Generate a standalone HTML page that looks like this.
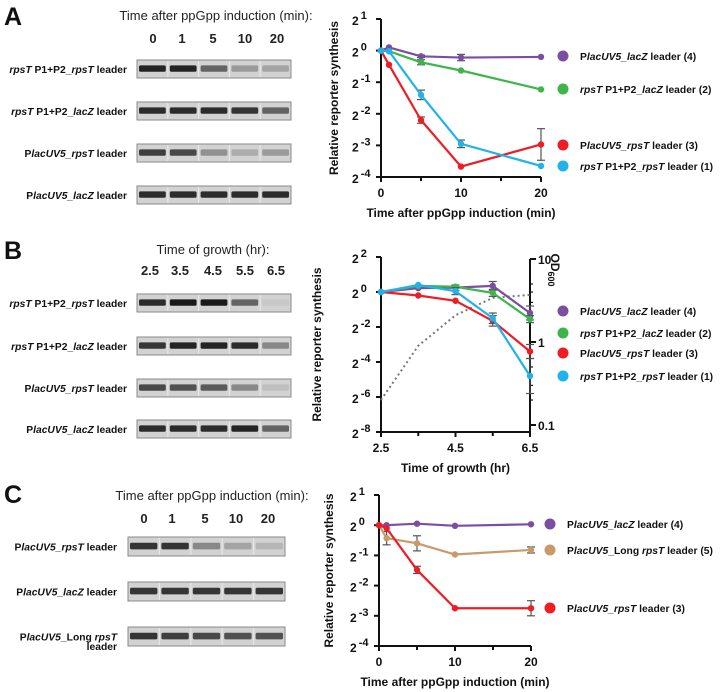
<!DOCTYPE html>
<html><head><meta charset="utf-8">
<style>
html,body{margin:0;padding:0;background:#fff;}
svg{display:block;font-family:"Liberation Sans",Arial,sans-serif;}
.t{font-weight:bold;font-size:12px;fill:#111;}
.lab{font-weight:bold;font-size:10.3px;fill:#111;}
.hdr{font-size:13px;fill:#222;}
.num{font-weight:bold;font-size:13px;fill:#222;}
.big{font-weight:bold;font-size:25px;fill:#111;}
</style></head>
<body>
<svg id="fig" width="720" height="692" viewBox="0 0 720 692">
<text class="big" x="4" y="25">A</text>
<text class="big" x="4" y="259">B</text>
<text class="big" x="4" y="503">C</text>
<text class="hdr" x="216" y="20" text-anchor="middle">Time after ppGpp induction (min):</text>
<text class="hdr" x="213" y="254" text-anchor="middle">Time of growth (hr):</text>
<text class="hdr" x="212" y="500" text-anchor="middle">Time after ppGpp induction (min):</text>
<g id="gels"></g>
<g id="charts"></g>
</svg>
<script>
// ---- Gel data ----
const gelALanes = ["0","1","5","10","20"];
const gelALabels = [[["rpsT",1],[" P1+P2_",0],["rpsT",1],[" leader",0]],[["rpsT",1],[" P1+P2_",0],["lacZ",1],[" leader",0]],[["P",0],["lacUV5_rpsT",1],[" leader",0]],[["P",0],["lacUV5_lacZ",1],[" leader",0]]];
const gelAIntensity = [[0.95,0.95,0.6,0.3,0.25],[0.9,0.9,0.9,0.85,0.6],[0.8,0.75,0.35,0.2,0.3],[0.9,0.9,0.9,0.9,0.9]];
const gelBLanes = ["2.5","3.5","4.5","5.5","6.5"];
const gelBIntensity = [[0.9,1,1,0.6,0.05],[0.85,0.95,0.95,0.9,0.4],[0.75,0.7,0.65,0.4,0.1],[0.9,0.9,0.9,0.95,0.6]];
const gelCLanes = ["0","1","5","10","20"];
const gelCLabels = [[["P",0],["lacUV5_rpsT",1],[" leader",0]],[["P",0],["lacUV5_lacZ",1],[" leader",0]],[["P",0],["lacUV5",1],["_Long ",0],["rpsT",1]]];
const gelCIntensity = [[0.85,0.85,0.4,0.25,0.15],[0.85,0.85,0.85,0.85,0.85],[0.85,0.8,0.75,0.7,0.7]];

// ---- Chart A data ----
const aTimes = [0,1,5,10,20];
const aPurple = [0,0.1,-0.18,-0.22,-0.2];
const aPurpleErr = [0,0,0.04,0.1,0];
const aGreen = [0,-0.02,-0.37,-0.63,-1.23];
const aGreenErr = [0,0,0.08,0,0];
const aRed = [0,-0.45,-2.2,-3.67,-2.97];
const aRedErr = [0,0,0.1,0,0.5];
const aBlue = [0,-0.02,-1.4,-2.95,-3.65];
const aBlueErr = [0,0,0.15,0.12,0];
const aYTicks = [1,0,-1,-2,-3,-4];
const aXTicks = [0,10,20];

// ---- Chart B data ----
const bTimes = [2.5,3.5,4.5,5.5,6.5];
const bPurple = [0,0.22,0.25,0.35,-1.2];
const bPurpleErr = [0,0,0.15,0.25,0.4];
const bGreen = [0,0.35,0.3,-0.05,-1.55];
const bGreenErr = [0,0,0,0.2,0.2];
const bRed = [0,-0.2,-0.5,-1.65,-3.4];
const bRedErr = [0,0,0,0.3,0.4];
const bBlue = [0,0.4,0.05,-1.5,-4.8];
const bBlueErr = [0,0,0.2,0.3,1.0];
const bOD = [0.2,0.9,2.1,3.4,3.7];
const bYTicks = [2,0,-2,-4,-6,-8];
const bXTicks = [2.5,4.5,6.5];
const bODTicks = [10,1,0.1];

// ---- Chart C data ----
const cTimes = [0,1,5,10,20];
const cPurple = [0,0,0.05,-0.02,0.03];
const cPurpleErr = [0,0,0,0,0];
const cTan = [0,-0.43,-0.6,-0.97,-0.82];
const cTanErr = [0,0.22,0.25,0,0.1];
const cRed = [0,-0.1,-1.48,-2.75,-2.75];
const cRedErr = [0,0,0.12,0,0.25];
const cYTicks = [1,0,-1,-2,-3,-4];
const cXTicks = [0,10,20];

const NS = "http://www.w3.org/2000/svg";
function mk(tag, attrs, parent){
  const e = document.createElementNS(NS, tag);
  for (const k in attrs) e.setAttribute(k, attrs[k]);
  parent.appendChild(e);
  return e;
}
function richText(parent, x, y, segs, cls, anchor){
  const t = mk('text', {x:x, y:y, class:cls, 'text-anchor':anchor||'start'}, parent);
  segs.forEach(s=>{
    const sp = mk('tspan', {}, t);
    if (s[1]) sp.setAttribute('font-style','italic');
    sp.textContent = s[0];
  });
  return t;
}
const gels = document.getElementById('gels');
const charts = document.getElementById('charts');

function drawGel(name, x0, x1, rowTops, h, intens, labels, labelX, lanes, laneY, laneXs){
  const g = mk('g', {}, gels);
  
  
  lanes.forEach((l,i)=>{
    const t = mk('text', {x:laneXs[i], y:laneY, class:'num', 'text-anchor':'middle'}, g);
    
    
    t.textContent = l;
  });
  const w = (x1-x0)/5;
  rowTops.forEach((ty,r)=>{
    const strip = mk('g', {}, g);
    
    
    mk('rect', {x:x0, y:ty, width:x1-x0, height:h, fill:'#d2d2d2', stroke:'#8a8a8a', 'stroke-width':1}, strip);
    intens[r].forEach((v,i)=>{
      mk('rect', {x:x0+i*w+2, y:ty+h*0.3, width:w-4, height:h*0.35, fill:'#1a1a1a', opacity:v, rx:1.5}, strip);
      if (i>0) mk('line', {x1:x0+i*w, x2:x0+i*w, y1:ty+1, y2:ty+h-1, stroke:'#e6e6e6', 'stroke-width':1.2}, strip);
    });
    if (labels && labels[r]) {
      const lt = richText(g, labelX, ty+h/2+4, labels[r], 'lab', 'end');
      
      
    }
  });
}
drawGel('gel-a', 137, 291, [60,102,144,186], 18, gelAIntensity, gelALabels, 127, gelALanes, 43, [153,182,213,245,277]);
drawGel('gel-b', 137, 291, [294,337,379,420], 18, gelBIntensity, gelALabels, 127, gelBLanes, 275, [150,180,213,245,276]);
drawGel('gel-c', 128, 285, [537,582,627], 19, gelCIntensity, gelCLabels, 117, gelCLanes, 523, [144,172,205,236,268]);
(function(){
  const t = mk('text', {x:117, y:650, class:'lab', 'text-anchor':'end'}, gels);
  
  
  t.textContent = 'leader';
})();

function drawChart(cfg){
  const g = mk('g', {}, charts);
  
  
  const X = v => cfg.x0 + (v - cfg.xmin) * (cfg.x1 - cfg.x0) / (cfg.xmax - cfg.xmin);
  const Y = v => cfg.y0 + (v - cfg.ymin) * (cfg.y1 - cfg.y0) / (cfg.ymax - cfg.ymin);
  const ax = mk('g', {stroke:'#111', 'stroke-width':2, fill:'none'}, g);
  
  
  mk('line', {x1:cfg.x0, x2:cfg.x0, y1:Y(cfg.ymax), y2:Y(cfg.ymin)+1}, ax);
  mk('line', {x1:cfg.x0-1, x2:cfg.x1, y1:Y(cfg.ymin), y2:Y(cfg.ymin)}, ax);
  cfg.yTicks.forEach(v=>{
    mk('line', {x1:cfg.x0-5, x2:cfg.x0, y1:Y(v), y2:Y(v)}, ax);
    const t = mk('text', {x:cfg.x0-29, y:Y(v)+6, class:'t'}, g);
    
    
    const b = mk('tspan', {}, t); b.textContent = '2';
    const e = mk('tspan', {dx:'2', dy:'-6', 'font-size':'11px'}, t); e.textContent = (v<0?'-':'') + Math.abs(v);
  });
  cfg.xTicks.forEach(v=>{
    mk('line', {x1:X(v), x2:X(v), y1:Y(cfg.ymin), y2:Y(cfg.ymin)+5}, ax);
    const t = mk('text', {x:X(v), y:Y(cfg.ymin)+20, class:'t', 'text-anchor':'middle', 'font-size':'13px'}, g);
    
    
    t.textContent = String(v);
  });
  (cfg.xMinor||[]).forEach(v=>{
    mk('line', {x1:X(v), x2:X(v), y1:Y(cfg.ymin), y2:Y(cfg.ymin)+4}, ax);
  });
  const xt = mk('text', {x:(cfg.x0+cfg.x1)/2, y:Y(cfg.ymin)+40, class:'t', 'text-anchor':'middle', 'font-size':'13px'}, g);
  
  
  xt.textContent = cfg.xTitle;
  const yc = (Y(cfg.ymax)+Y(cfg.ymin))/2;
  const yt = mk('text', {x:cfg.yTitleX, y:yc, class:'t', 'text-anchor':'middle', 'font-size':'13px', transform:'rotate(-90 '+cfg.yTitleX+' '+yc+')'}, g);
  
  
  yt.textContent = 'Relative reporter synthesis';
  if (cfg.extra) cfg.extra(g, X);
  cfg.series.forEach(s=>{
    const sg = mk('g', {}, g);
    
    
    s.err.forEach((e,i)=>{
      if (!e) return;
      const x = X(cfg.xs[i]), yA = Y(s.vals[i]+e), yB = Y(s.vals[i]-e);
      mk('line', {x1:x, x2:x, y1:yA, y2:yB, stroke:'#555', 'stroke-width':1.2}, sg);
      mk('line', {x1:x-4, x2:x+4, y1:yA, y2:yA, stroke:'#555', 'stroke-width':1.2}, sg);
      mk('line', {x1:x-4, x2:x+4, y1:yB, y2:yB, stroke:'#555', 'stroke-width':1.2}, sg);
    });
    const pts = s.vals.map((v,i)=>X(cfg.xs[i])+','+Y(v)).join(' ');
    mk('polyline', {points:pts, fill:'none', stroke:s.color, 'stroke-width':2.2}, sg);
    s.vals.forEach((v,i)=>{
      const c = mk('circle', {cx:X(cfg.xs[i]), cy:Y(v), r:3.2, fill:s.color}, sg);
      
      
    });
    const lg = mk('g', {}, g);
    
    
    mk('circle', {cx:cfg.legX, cy:s.legY, r:5.5, fill:s.color}, lg);
    richText(lg, cfg.legX+17, s.legY+4, s.label, 'lab', 'start');
  });
}

const lblPurple = [["P",0],["lacUV5_lacZ",1],[" leader (4)",0]];
const lblGreen = [["rpsT",1],[" P1+P2_",0],["lacZ",1],[" leader (2)",0]];
const lblRed = [["P",0],["lacUV5_rpsT",1],[" leader (3)",0]];
const lblBlue = [["rpsT",1],[" P1+P2_",0],["rpsT",1],[" leader (1)",0]];

drawChart({name:'chart-a', x0:381, x1:541, xmin:0, xmax:20, y0:177, y1:19, ymin:-4, ymax:1,
  xs:aTimes, yTicks:aYTicks, xTicks:aXTicks, xMinor:[5,15], xTitle:'Time after ppGpp induction (min)', yTitleX:338, legX:563,
  series:[
    {name:'series-purple', vals:aPurple, err:aPurpleErr, color:'#7b4ea3', legY:56, label:lblPurple},
    {name:'series-green', vals:aGreen, err:aGreenErr, color:'#3db54a', legY:89, label:lblGreen},
    {name:'series-red', vals:aRed, err:aRedErr, color:'#ee1d25', legY:145, label:lblRed},
    {name:'series-blue', vals:aBlue, err:aBlueErr, color:'#22b2ea', legY:166, label:lblBlue}
  ]});

drawChart({name:'chart-b', x0:381, x1:530, xmin:2.5, xmax:6.5, y0:432, y1:257, ymin:-8, ymax:2,
  xs:bTimes, yTicks:bYTicks, xTicks:bXTicks, xMinor:[3.5,5.5], xTitle:'Time of growth (hr)', yTitleX:321, legX:563,
  extra:function(g, X){
    const L = v => 342 - 83*Math.log10(v);
    const rg = mk('g', {stroke:'#111', 'stroke-width':2}, g);
    
    
    mk('line', {x1:530, x2:530, y1:L(10), y2:432}, rg);
    [0.2,0.3,0.4,0.5,2,3,4,5].forEach(v=>mk('line', {x1:530, x2:533, y1:L(v), y2:L(v), 'stroke-width':1.2}, rg));
    bODTicks.forEach(v=>{
      mk('line', {x1:530, x2:536, y1:L(v), y2:L(v)}, rg);
      const t = mk('text', {x:538, y:L(v)+5, class:'t', 'font-size':'13px', stroke:'none'}, g);
      
      
      t.textContent = String(v);
    });
    const ot = mk('text', {x:551, y:270, class:'t', 'font-size':'13px', 'text-anchor':'middle', transform:'rotate(90 551 270)'}, g);
    
    
    ot.innerHTML = 'OD<tspan font-size="9px" dy="3">600</tspan>';
    const pts = bOD.map((v,i)=>X(bTimes[i])+','+L(v)).join(' ');
    const od = mk('polyline', {points:pts, fill:'none', stroke:'#777', 'stroke-width':2, 'stroke-dasharray':'2,3'}, g);
    
    
  },
  series:[
    {name:'series-purple', vals:bPurple, err:bPurpleErr, color:'#7b4ea3', legY:311, label:lblPurple},
    {name:'series-green', vals:bGreen, err:bGreenErr, color:'#3db54a', legY:333, label:lblGreen},
    {name:'series-red', vals:bRed, err:bRedErr, color:'#ee1d25', legY:353, label:lblRed},
    {name:'series-blue', vals:bBlue, err:bBlueErr, color:'#22b2ea', legY:376, label:lblBlue}
  ]});

drawChart({name:'chart-c', x0:379, x1:531, xmin:0, xmax:20, y0:646, y1:495, ymin:-4, ymax:1,
  xs:cTimes, yTicks:cYTicks, xTicks:cXTicks, xMinor:[5,15], xTitle:'Time after ppGpp induction (min)', yTitleX:333, legX:550,
  series:[
    {name:'series-purple', vals:cPurple, err:cPurpleErr, color:'#7b4ea3', legY:524, label:lblPurple},
    {name:'series-tan', vals:cTan, err:cTanErr, color:'#c9996a', legY:550, label:[["P",0],["lacUV5",1],["_Long ",0],["rpsT",1],[" leader (5)",0]]},
    {name:'series-red', vals:cRed, err:cRedErr, color:'#ee1d25', legY:608, label:lblRed}
  ]});
</script>
</body></html>
